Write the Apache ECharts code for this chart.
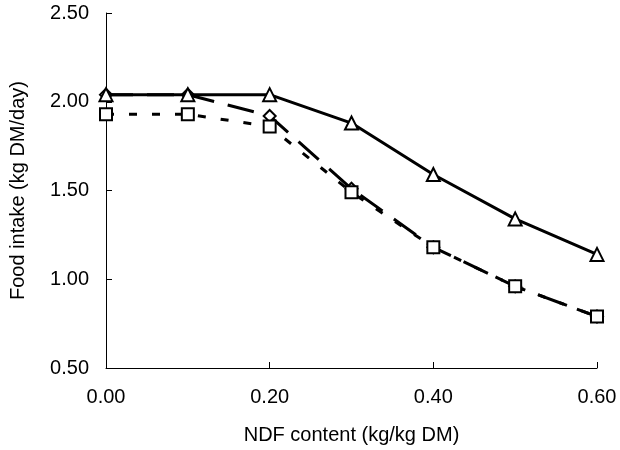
<!DOCTYPE html>
<html><head><meta charset="utf-8">
<script src="https://cdn.jsdelivr.net/npm/echarts@6/dist/echarts.min.js"></script>
<style>html,body{margin:0;padding:0;background:#fff}#c{width:620px;height:450px}</style>
</head><body><div id="c"></div>
<script>
const xValues = [0.0, 0.1, 0.2, 0.3, 0.4, 0.5, 0.6];
const triangleSeries = [2.04, 2.04, 2.04, 1.88, 1.59, 1.34, 1.14];
const diamondSeries = [2.04, 2.04, 1.92, 1.51, 1.18, 0.96, 0.79];
const squareSeries = [1.93, 1.93, 1.86, 1.49, 1.18, 0.96, 0.79];
const xTitle = 'NDF content (kg/kg DM)';
const yTitle = 'Food intake (kg DM/day)';

const pair = arr => xValues.map((x, i) => [x, arr[i]]);
const font = 'Liberation Sans, Arial, sans-serif';
const chart = echarts.init(document.getElementById('c'));
const mk = { color: '#fff', borderColor: '#000', borderWidth: 2 };
chart.setOption({
  animation: false,
  grid: { left: 104, right: 23, top: 13, bottom: 79 },
  xAxis: {
    type: 'value', min: 0, max: 0.6, interval: 0.2,
    name: xTitle, nameLocation: 'middle', nameGap: 57,
    nameTextStyle: { fontFamily: font, fontSize: 20, color: '#000' },
    axisLine: { show: true, onZero: false, lineStyle: { color: '#000', width: 1 } },
    axisTick: { show: true, inside: true, length: 6, lineStyle: { color: '#000' } },
    axisLabel: { fontFamily: font, fontSize: 20, color: '#000', margin: 19, formatter: v => v.toFixed(2) },
    splitLine: { show: false }
  },
  yAxis: {
    type: 'value', min: 0.5, max: 2.5, interval: 0.5,
    name: yTitle, nameLocation: 'middle', nameGap: 78, nameRotate: 90,
    nameTextStyle: { fontFamily: font, fontSize: 20, color: '#000' },
    axisLine: { show: true, lineStyle: { color: '#000', width: 1 } },
    axisTick: { show: true, inside: true, length: 6, lineStyle: { color: '#000' } },
    axisLabel: { fontFamily: font, fontSize: 20, color: '#000', margin: 17, formatter: v => v.toFixed(2) },
    splitLine: { show: false }
  },
  series: [
    { type: 'line', data: pair(diamondSeries), symbol: 'diamond', symbolSize: 12,
      itemStyle: mk, lineStyle: { color: '#000', width: 3, type: [27, 14] }, z: 2 },
    { type: 'line', data: pair(squareSeries), symbol: 'rect', symbolSize: 12,
      itemStyle: mk, lineStyle: { color: '#000', width: 3, type: [8, 15] }, z: 3 },
    { type: 'line', data: pair(triangleSeries), symbol: 'triangle', symbolSize: 13,
      itemStyle: mk, lineStyle: { color: '#000', width: 3, type: 'solid' }, z: 4 }
  ]
});
</script></body></html>
